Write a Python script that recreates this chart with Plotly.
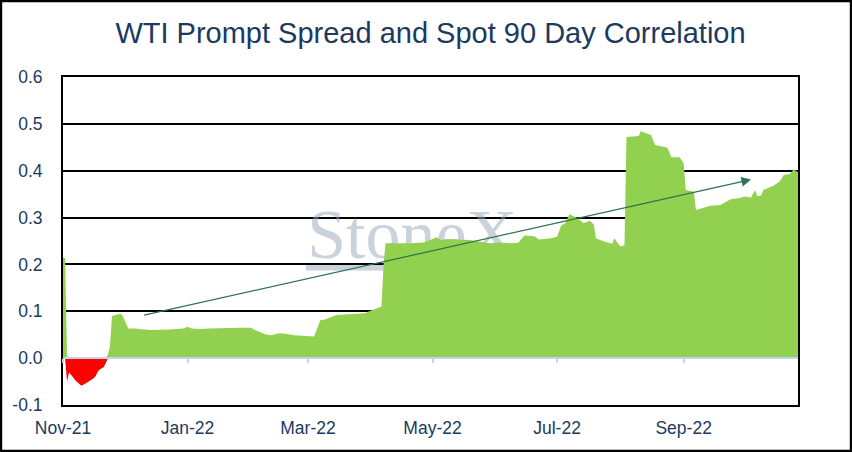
import plotly.graph_objects as go
import numpy as np

W, H = 852, 452
ML, MR, MT, MB = 63, 54, 77, 47

dates = [
    "2021-11-01", "2021-11-02", "2021-11-03", "2021-11-04", "2021-11-07", "2021-11-10",
    "2021-11-12", "2021-11-14", "2021-11-16", "2021-11-17", "2021-11-18", "2021-11-19",
    "2021-11-21", "2021-11-22", "2021-11-23", "2021-11-24", "2021-11-25", "2021-11-27",
    "2021-11-29", "2021-11-30", "2021-12-02", "2021-12-03", "2021-12-07", "2021-12-08",
    "2021-12-14", "2021-12-18", "2021-12-23", "2021-12-30", "2022-01-01", "2022-01-03",
    "2022-01-07", "2022-01-12", "2022-01-21", "2022-01-26", "2022-02-01", "2022-02-03",
    "2022-02-08", "2022-02-11", "2022-02-15", "2022-02-18", "2022-02-22", "2022-02-27",
    "2022-03-04", "2022-03-07", "2022-03-09", "2022-03-15", "2022-03-22", "2022-03-29",
    "2022-03-31", "2022-04-05", "2022-04-06", "2022-04-07", "2022-04-08", "2022-04-12",
    "2022-04-20", "2022-04-27", "2022-05-03", "2022-05-05", "2022-05-09", "2022-05-19",
    "2022-05-24", "2022-05-29", "2022-06-03", "2022-06-08", "2022-06-12", "2022-06-15",
    "2022-06-20", "2022-06-22", "2022-06-28", "2022-07-01", "2022-07-03", "2022-07-05",
    "2022-07-07", "2022-07-11", "2022-07-14", "2022-07-17", "2022-07-19", "2022-07-20",
    "2022-07-24", "2022-07-28", "2022-07-29", "2022-08-01", "2022-08-03", "2022-08-04",
    "2022-08-10", "2022-08-11", "2022-08-16", "2022-08-18", "2022-08-22", "2022-08-24",
    "2022-08-26", "2022-08-30", "2022-09-01", "2022-09-02", "2022-09-06", "2022-09-07",
    "2022-09-14", "2022-09-19", "2022-09-24", "2022-09-28", "2022-10-01", "2022-10-04",
    "2022-10-06", "2022-10-07", "2022-10-09", "2022-10-10", "2022-10-15", "2022-10-18",
    "2022-10-20", "2022-10-23", "2022-10-25", "2022-10-27",
]
correlation = [
    0.215, 0.213, -0.050, -0.030, -0.047, -0.059,
    -0.054, -0.048, -0.043, -0.038, -0.029, -0.024,
    -0.019, -0.010, 0.008, 0.025, 0.090, 0.092,
    0.095, 0.092, 0.075, 0.063, 0.063, 0.062,
    0.060, 0.060, 0.061, 0.063, 0.067, 0.063,
    0.062, 0.063, 0.065, 0.065, 0.065, 0.060,
    0.051, 0.049, 0.053, 0.052, 0.049, 0.048,
    0.046, 0.081, 0.082, 0.092, 0.094, 0.096,
    0.100, 0.107, 0.110, 0.200, 0.245, 0.245,
    0.245, 0.247, 0.258, 0.252, 0.254, 0.252,
    0.249, 0.245, 0.247, 0.245, 0.246, 0.262,
    0.260, 0.253, 0.256, 0.259, 0.283, 0.288,
    0.307, 0.299, 0.288, 0.293, 0.285, 0.256,
    0.249, 0.244, 0.256, 0.238, 0.241, 0.472,
    0.474, 0.484, 0.476, 0.455, 0.451, 0.449,
    0.429, 0.429, 0.416, 0.359, 0.355, 0.316,
    0.325, 0.327, 0.339, 0.341, 0.345, 0.343,
    0.359, 0.346, 0.347, 0.359, 0.368, 0.377,
    0.391, 0.393, 0.403, 0.396,
]

tick_dates = ["2021-11-01", "2022-01-01", "2022-03-01", "2022-05-01", "2022-07-01", "2022-09-01"]
tick_labels = ["Nov-21", "Jan-22", "Mar-22", "May-22", "Jul-22", "Sep-22"]
y_ticks = [-0.1, 0.0, 0.1, 0.2, 0.3, 0.4, 0.5, 0.6]
y_labels = ["-0.1", "0.0", "0.1", "0.2", "0.3", "0.4", "0.5", "0.6"]

trend_start = ("2021-12-10", 0.091)
trend_end = ("2022-10-04", 0.381)

x_range = ["2021-11-01", "2022-10-27"]
y_range = [-0.1, 0.6]

title_text = "WTI Prompt Spread and Spot 90 Day Correlation"
watermark = ("2022-04-21", 0.252, "StoneX")
watermark_bar = ("2022-02-28", "2022-06-13", 0.187, 0.203)

navy = "#1B3A5E"
green = "#92D050"
red = "#FF0000"
zero_blue = "#BDD7EE"
arrow_green = "#2E7352"
wm_color = "rgba(150,166,186,0.5)"

vals = np.array(correlation)
pos = np.maximum(vals, 0)
neg = np.minimum(vals, 0)

fig = go.Figure()
fig.add_trace(go.Scatter(
    x=[watermark[0]], y=[watermark[1]], mode="text", text=[watermark[2]],
    textfont=dict(family="Liberation Serif", size=70, color=wm_color),
    hoverinfo="skip", showlegend=False,
))
fig.add_trace(go.Scatter(x=dates, y=neg, mode="lines", line=dict(width=0, color=red),
                         fill="tozeroy", fillcolor=red, showlegend=False))
fig.add_trace(go.Scatter(x=dates, y=pos, mode="lines", line=dict(width=0, color=green),
                         fill="tozeroy", fillcolor=green, showlegend=False))
# zero-line axis ticks
fig.add_trace(go.Scatter(x=tick_dates, y=[0] * len(tick_dates), xaxis="x2", mode="markers",
                         marker=dict(size=0.1, color=zero_blue), showlegend=False, hoverinfo="skip"))

fig.add_annotation(
    x=trend_end[0], y=trend_end[1], ax=trend_start[0], ay=trend_start[1],
    xref="x", yref="y", axref="x", ayref="y", text="", showarrow=True,
    arrowhead=2, arrowsize=1.6, arrowwidth=1.2, arrowcolor=arrow_green, standoff=0,
)

pw = W - ML - MR
ph = H - MT - MB
zero_frac = (0 - y_range[0]) / (y_range[1] - y_range[0])

fig.update_layout(
    width=W, height=H, autosize=False,
    margin=dict(l=ML, r=MR, t=MT, b=MB),
    paper_bgcolor="white", plot_bgcolor="white",
    title=dict(text=title_text, x=0.5, xref="paper", xanchor="center",
               y=1 - 33 / H, yref="container", yanchor="middle",
               font=dict(family="Liberation Sans", size=29, color=navy)),
    xaxis=dict(type="date", range=x_range, tickvals=tick_dates, ticktext=tick_labels,
               showgrid=False, zeroline=False, showline=True, linecolor="black", linewidth=2,
               mirror=True, ticks="", ticklabelstandoff=6,
               tickfont=dict(family="Liberation Sans", size=17.5, color=navy)),
    xaxis2=dict(type="date", range=x_range, overlaying="x", anchor="free", position=zero_frac,
                tickvals=tick_dates, showticklabels=False, showgrid=False, zeroline=False,
                showline=True, linecolor=zero_blue, linewidth=2.2, ticks="outside",
                ticklen=4, tickwidth=2, tickcolor=zero_blue),
    yaxis=dict(range=y_range, tickvals=y_ticks, ticktext=y_labels, showgrid=True,
               gridcolor="black", gridwidth=1.6, zeroline=False, showline=True,
               linecolor="black", linewidth=2, mirror=True, ticks="", ticklabelstandoff=15,
               tickfont=dict(family="Liberation Sans", size=17.5, color=navy)),
    shapes=[
        dict(type="rect", xref="paper", yref="paper",
             x0=-(ML - 1) / pw, x1=1 + (MR - 1) / pw,
             y0=-(MB - 1) / ph, y1=1 + (MT - 1) / ph,
             line=dict(color="black", width=2.4)),
        dict(type="rect", xref="x", yref="y", layer="below",
             x0=watermark_bar[0], x1=watermark_bar[1], y0=watermark_bar[2], y1=watermark_bar[3],
             line=dict(width=0), fillcolor=wm_color),
    ],
)

fig.write_html("out.html", config={"displayModeBar": False, "responsive": False},
               post_script="document.body.style.margin='0';document.body.style.overflow='hidden';")
